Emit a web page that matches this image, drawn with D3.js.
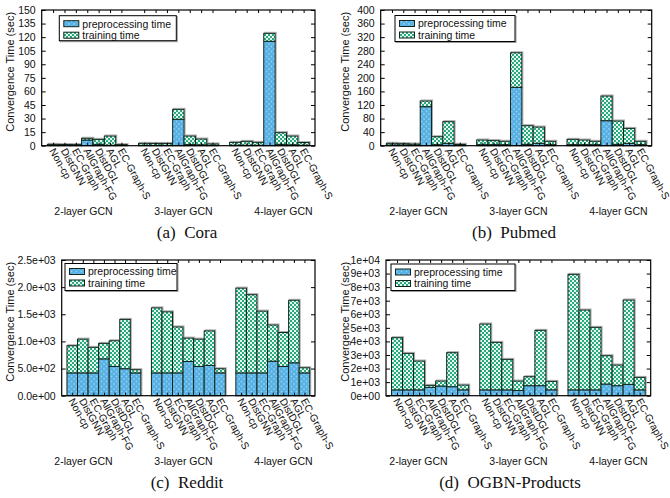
<!DOCTYPE html>
<html><head><meta charset="utf-8">
<script src="https://cdn.jsdelivr.net/npm/d3@7"></script>
<style>body{margin:0;background:#fff} text{font-family:"Liberation Sans",Arial,Helvetica,sans-serif;fill:#111}</style>
</head><body><svg id="c" width="670" height="498" xmlns="http://www.w3.org/2000/svg"></svg>
<script>
// ---------- data ----------
const categories = ["Non-cp","DistGNN","EC-Graph","AllGraph-FG","DistDGL","AGL","EC-Graph-S"];
const groups = ["2-layer GCN","3-layer GCN","4-layer GCN"];
const series = ["preprocessing time","training time"];
const captions = ["(a)\u00a0 Cora","(b)\u00a0 Pubmed","(c)\u00a0 Reddit","(d)\u00a0 OGBN-Products"];

const coraPre   = [[0.3,0.3,0.3,6.3,1.5,0.5,0.3],[0.4,0.4,0.4,29.2,1.2,1.0,0.4],[0.5,0.5,0.5,115.4,1.5,1.0,0.5]];
const coraTrain = [[1.2,1.0,0.9,1.9,5.5,10.2,0.9],[2.2,2.1,2.1,11.0,9.5,6.4,1.6],[3.2,4.3,3.2,8.8,12.9,9.7,3.0]];
const pubmedPre   = [[2,2,1.5,115,3,7,1.5],[3,3,3,172,4,7,3],[3,3,3,73.7,4,7,3]];
const pubmedTrain = [[5,4,3.5,16.8,23.5,63.8,2.5],[13.8,12,10,102,55,48,10],[15.8,13.8,10,72.8,68.8,44,10]];
const redditPre   = [[420,420,420,679,539,497,420],[420,420,420,630,539,558,420],[420,420,420,636,539,606,420]];
const redditTrain = [[501,622,471,285,473,909,59],[1198,1125,847,431,503,636,77],[1562,1441,1138,667,625,1152,95]];
const ogbnPre   = [[430,430,430,614,713,663,430],[430,430,430,380,737,737,430],[430,430,430,860,737,835,430]];
const ogbnTrain = [[3845,2690,2125,148,368,2507,356],[4853,3501,2248,701,663,4079,626],[8513,5884,4607,2088,1523,6217,921]];

const yTicksCora = [0,15,30,45,60,75,90,105,120,135,150];
const yTicksPubmed = [0,40,80,120,160,200,240,280,320,360,400];
const yTicksReddit = ["0.0e+00","5.0e+02","1.0e+03","1.5e+03","2.0e+03","2.5e+03"];
const yTicksOgbn = ["0e+00","1e+03","2e+03","3e+03","4e+03","5e+03","6e+03","7e+03","8e+03","9e+03","1e+04"];

// ---------- layout ----------
const panels = [
  {ox:0,   x0:41.7,  x1:315,   y0:10,  y1:145.7, ymax:150,   ticks:yTicksCora,   pre:coraPre,   train:coraTrain,   leg:[59.3,15.7,117,25], cap:[187,238]},
  {ox:335, x0:380.7, x1:651.7, y0:10,  y1:145.7, ymax:400,   ticks:yTicksPubmed, pre:pubmedPre, train:pubmedTrain, leg:[395,15.5,120,26], cap:[514,238]},
  {ox:0,   x0:61.7,  x1:315,   y0:260, y1:395.7, ymax:2500,  ticks:yTicksReddit, pre:redditPre, train:redditTrain, leg:[65,263.5,112,27], cap:[187,488]},
  {ox:335, x0:386,   x1:650.7, y0:260, y1:395.7, ymax:10000, ticks:yTicksOgbn,   pre:ogbnPre,   train:ogbnTrain,   leg:[391,264,124,26.5], cap:[510,488]}
];

const svg = d3.select("#c");
const defs = svg.append("defs");
const pb = defs.append("pattern").attr("id","pPre").attr("patternUnits","userSpaceOnUse").attr("width",5).attr("height",5);
pb.append("rect").attr("width",5).attr("height",5).attr("fill","#56b0e4");
pb.append("circle").attr("cx",1.5).attr("cy",1.5).attr("r",0.9).attr("fill","#8fd0f2");
pb.append("circle").attr("cx",4).attr("cy",4).attr("r",0.9).attr("fill","#8fd0f2");
const pg = defs.append("pattern").attr("id","pTrain").attr("patternUnits","userSpaceOnUse").attr("width",4).attr("height",4);
pg.append("rect").attr("width",4).attr("height",4).attr("fill","#2aa97f");
pg.append("rect").attr("x",0).attr("y",0).attr("width",2).attr("height",2).attr("fill","#e4f6ee");
pg.append("rect").attr("x",2).attr("y",2).attr("width",2).attr("height",2).attr("fill","#e4f6ee");

const fills = ["url(#pPre)","url(#pTrain)"];

panels.forEach((p, pi) => {
  const g = svg.append("g");
  const x = d3.scaleLinear().domain([-1, 23]).range([p.x0, p.x1]);
  const y = d3.scaleLinear().domain([0, p.ymax]).range([p.y1, p.y0]);
  const bw = x(0.5) - x(-0.5);
  const tickVals = d3.range(p.ticks.length).map(i => i * p.ymax / (p.ticks.length - 1));

  groups.forEach((grp, gi) => {
    categories.forEach((cat, ci) => {
      const s = gi * 8 + ci;
      const pre = p.pre[gi][ci], tr = p.train[gi][ci];
      const segs = [[0, pre], [pre, pre + tr]];
      g.append("rect").attr("x", x(s) - bw/2 + 1).attr("y", y(pre + tr) - 1)
        .attr("width", bw).attr("height", Math.max(0, y(0) - y(pre + tr)))
        .attr("fill", "none").attr("stroke", "#aaa").attr("stroke-width", 1);
      segs.forEach((sg, k) => {
        g.append("rect").attr("x", x(s) - bw/2).attr("y", y(sg[1]))
          .attr("width", bw).attr("height", Math.max(0, y(sg[0]) - y(sg[1])))
          .attr("fill", fills[k]).attr("stroke", "#10251c").attr("stroke-width", 1);
      });
    });
  });

  g.append("rect").attr("x", p.x0).attr("y", p.y0).attr("width", p.x1 - p.x0).attr("height", p.y1 - p.y0)
    .attr("fill", "none").attr("stroke", "#000").attr("stroke-width", 1.2);

  const yAxis = d3.axisLeft(y).tickValues(tickVals).tickSizeInner(-4).tickSizeOuter(0)
    .tickFormat((d, i) => String(p.ticks[i])).tickPadding(6);
  const ya = g.append("g").attr("transform", `translate(${p.x0},0)`).call(yAxis);
  ya.select(".domain").remove();
  ya.selectAll("text").attr("font-size", 10.5).attr("fill", "#111").attr("font-family", "Liberation Sans, Arial, sans-serif");
  const yAxisR = d3.axisRight(y).tickValues(tickVals).tickSizeInner(-4).tickSizeOuter(0).tickFormat("");
  const yr = g.append("g").attr("transform", `translate(${p.x1},0)`).call(yAxisR);
  yr.select(".domain").remove();

  const slots = [];
  groups.forEach((grp, gi) => categories.forEach((cat, ci) => slots.push({s: gi*8+ci, cat})));
  const xAxisB = d3.axisBottom(x).tickValues(slots.map(d => d.s)).tickSizeInner(-3).tickSizeOuter(0).tickFormat("");
  const xb = g.append("g").attr("transform", `translate(0,${p.y1})`).call(xAxisB);
  xb.select(".domain").remove();
  const xAxisT = d3.axisTop(x).tickValues(slots.map(d => d.s)).tickSizeInner(-3).tickSizeOuter(0).tickFormat("");
  const xt = g.append("g").attr("transform", `translate(0,${p.y0})`).call(xAxisT);
  xt.select(".domain").remove();

  g.selectAll("text.cat").data(slots).enter().append("text").attr("class","cat")
    .attr("transform", d => `translate(${x(d.s) - 4},${p.y1 + 5}) rotate(61)`)
    .attr("font-size", 10.3).text(d => d.cat);

  groups.forEach((grp, gi) => {
    g.append("text").attr("x", p.ox + 83.5 + gi * 100).attr("y", p.y1 + 69).attr("text-anchor", "middle")
      .attr("font-size", 10.5).text(grp);
  });

  g.append("text").attr("transform", `translate(${p.ox + 13.5},${(p.y0 + p.y1)/2 - 6}) rotate(-90)`)
    .attr("text-anchor", "middle").attr("font-size", 11).text("Convergence Time (sec)");

  const [lx, ly, lw, lh] = p.leg;
  g.append("rect").attr("x", lx + 1).attr("y", ly + 1).attr("width", lw).attr("height", lh).attr("fill", "none").attr("stroke", "#999");
  g.append("rect").attr("x", lx).attr("y", ly).attr("width", lw).attr("height", lh).attr("fill", "#fff").attr("stroke", "#000");
  series.forEach((sname, k) => {
    const ry = ly + 8 + k * 11.5;
    g.append("rect").attr("x", lx + 4.5).attr("y", ry - 3).attr("width", 15).attr("height", 6)
      .attr("fill", fills[k]).attr("stroke", "#10251c");
    g.append("text").attr("x", lx + 23).attr("y", ry + 3.8).attr("font-size", 10.5).text(sname);
  });

  g.append("text").attr("x", p.cap[0]).attr("y", p.cap[1]).attr("text-anchor", "middle")
    .style("font-family", "'Liberation Serif', 'Times New Roman', serif")
    .attr("font-size", 17).text(captions[pi]);
});
</script></body></html>
